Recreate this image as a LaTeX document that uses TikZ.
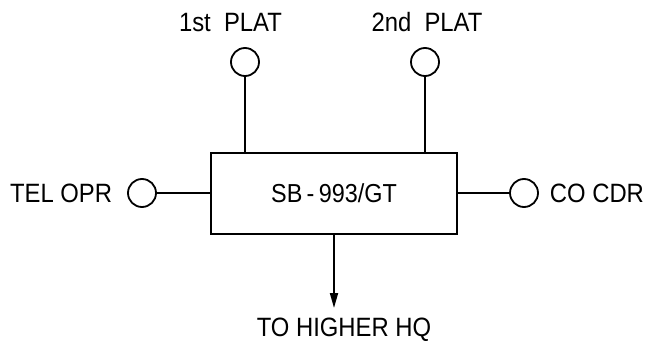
\documentclass[tikz,border=0pt]{standalone}
\usepackage{fontspec}
\setmainfont{Liberation Sans}[FakeStretch=0.9]
\usetikzlibrary{arrows.meta}
\begin{document}
\begin{tikzpicture}[x=1pt,y=1pt,line width=1.8pt,
    term/.style={draw,circle,minimum size=28pt,inner sep=0pt},
    lbl/.style={font=\fontsize{26.5}{30}\selectfont,inner sep=0pt,anchor=base}]
    \useasboundingbox (0,0) rectangle (645,343);
    \node[draw,minimum width=246pt,minimum height=81pt,font=\fontsize{26}{30}\selectfont] (box) at (334,149.5) {SB\,-\,993/GT};
    \node[term] (p1) at (245,281) {};
    \node[term] (p2) at (425,281) {};
    \node[term] (tel) at (142,150) {};
    \node[term] (co) at (524,150) {};
    \node[lbl] (l1) at (230.5,311) {1st\ \ PLAT};
    \node[lbl] (l2) at (427,311) {2nd\ \ PLAT};
    \node[lbl,anchor=base east] (ltel) at (113,140) {TEL OPR};
    \node[lbl,anchor=base west] (lco) at (549,140) {CO CDR};
    \node[lbl] (lhq) at (344,7) {TO HIGHER HQ};
    \coordinate (tip) at (334,35);
    \draw (p1)--(p1 |- box.north);
    \draw (p2)--(p2 |- box.north);
    \draw (tel)--(tel -| box.west);
    \draw (co)--(co -| box.east);
    \draw[-{Triangle[length=15pt,width=8pt]}](box.south)--(tip);
\end{tikzpicture}
\end{document}
